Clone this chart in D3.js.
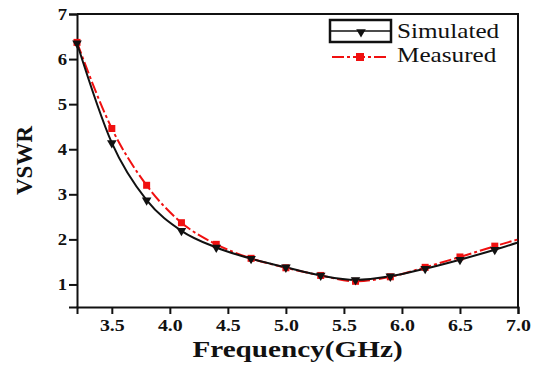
<!DOCTYPE html>
<html>
<head>
<script src="https://d3js.org/d3.v7.js"></script>
<style>
  body { margin: 0; background: #fff; }
  svg text { font-family: "Liberation Serif", "Times New Roman", serif; fill: #111; }
  .tick text { font-weight: bold; font-size: 17px; }
</style>
</head>
<body>
<svg id="chart"></svg>
<script>
// Data
var freq      = [3.2, 3.5, 3.8, 4.1, 4.4, 4.7, 5.0, 5.3, 5.6, 5.9, 6.2, 6.5, 6.8, 7.0];
var simulated = [6.35, 4.14, 2.87, 2.19, 1.82, 1.57, 1.38, 1.20, 1.10, 1.18, 1.35, 1.55, 1.77, 1.93];
var measured  = [6.37, 4.46, 3.20, 2.37, 1.89, 1.58, 1.37, 1.20, 1.07, 1.17, 1.38, 1.61, 1.85, 2.00];
var xTicks = [3.5, 4.0, 4.5, 5.0, 5.5, 6.0, 6.5, 7.0];
var yTicks = [1, 2, 3, 4, 5, 6, 7];
var seriesNames = ["Simulated", "Measured"];

var width = 544, height = 371;
var margin = { top: 14, right: 26, bottom: 64, left: 77 };

var svg = d3.select("#chart").attr("width", width).attr("height", height);

var x = d3.scaleLinear().domain([3.2, 7.0]).range([margin.left, width - margin.right]);
var y = d3.scaleLinear().domain([0.5, 7]).range([height - margin.bottom, margin.top]);

// frame: top and right lines
svg.append("path")
  .attr("d", "M" + x(3.2) + "," + y(7) + "H" + x(7.0) + "V" + y(0.5))
  .attr("fill", "none").attr("stroke", "#111").attr("stroke-width", 2);

// axes (the source picture is a bit stretched sideways, so text is too)
var xAxis = svg.append("g")
  .attr("transform", "translate(0," + y(0.5) + ")")
  .call(d3.axisBottom(x).tickValues(xTicks).tickFormat(d3.format(".1f")).tickSizeOuter(0).tickSize(7).tickPadding(5));
var yAxis = svg.append("g")
  .attr("transform", "translate(" + x(3.2) + ",0)")
  .call(d3.axisLeft(y).tickValues(yTicks).tickFormat(d3.format("d")).tickSizeOuter(0).tickSize(8).tickPadding(1));
[xAxis, yAxis].forEach(function (g) {
  g.select(".domain").attr("stroke", "#111").attr("stroke-width", 2);
  g.selectAll(".tick line").attr("stroke", "#111").attr("stroke-width", 2);
});
xAxis.selectAll(".tick text").attr("transform", "scale(1.17,1)");
yAxis.selectAll(".tick text").attr("transform", "scale(1.1,1)");

// axis titles
svg.append("text")
  .attr("transform", "translate(" + (x(3.2) + x(7.0)) / 2 + ",357) scale(1.27,1)")
  .attr("text-anchor", "middle")
  .style("font-weight", "bold").style("font-size", "23px")
  .text("Frequency(GHz)");
svg.append("text")
  .attr("transform", "translate(32," + (y(0.5) + y(7)) / 2 + ") rotate(-90)")
  .attr("text-anchor", "middle")
  .style("font-weight", "bold").style("font-size", "23px")
  .text("VSWR");

var line = d3.line().curve(d3.curveMonotoneX)
  .x(function (d) { return x(d[0]); })
  .y(function (d) { return y(d[1]); });

var simData = freq.map(function (f, i) { return [f, simulated[i]]; });
var meaData = freq.map(function (f, i) { return [f, measured[i]]; });

svg.append("path").datum(meaData)
  .attr("d", line).attr("fill", "none")
  .attr("stroke", "#f01010").attr("stroke-width", 2)
  .attr("stroke-dasharray", "12,3,3,3");
svg.append("path").datum(simData)
  .attr("d", line).attr("fill", "none")
  .attr("stroke", "#111").attr("stroke-width", 2);

var tri = d3.symbol().type(d3.symbolTriangle).size(40);

// markers (not on the last point)
svg.selectAll(".sq").data(meaData.slice(0, -1)).enter().append("rect")
  .attr("x", function (d) { return x(d[0]) - 3.5; })
  .attr("y", function (d) { return y(d[1]) - 3.5; })
  .attr("width", 7).attr("height", 7).attr("fill", "#f01010");
svg.selectAll(".tri").data(simData.slice(0, -1)).enter().append("path")
  .attr("d", tri)
  .attr("transform", function (d) { return "translate(" + x(d[0]) + "," + y(d[1]) + ") rotate(180)"; })
  .attr("fill", "#111");

// legend
var lg = svg.append("g");
lg.append("rect").attr("x", 330).attr("y", 20).attr("width", 61).attr("height", 22)
  .attr("fill", "none").attr("stroke", "#111").attr("stroke-width", 2.5);
lg.append("line").attr("x1", 331).attr("x2", 390).attr("y1", 31).attr("y2", 31)
  .attr("stroke", "#111").attr("stroke-width", 1.5);
lg.append("path").attr("d", tri)
  .attr("transform", "translate(361,32) rotate(180)").attr("fill", "#111");
lg.append("line").attr("x1", 332).attr("x2", 387).attr("y1", 57).attr("y2", 57)
  .attr("stroke", "#f01010").attr("stroke-width", 2).attr("stroke-dasharray", "12,3,3,3");
lg.append("rect").attr("x", 356).attr("y", 53).attr("width", 8).attr("height", 8).attr("fill", "#f01010");
lg.selectAll(".lt").data(seriesNames).enter().append("text")
  .attr("transform", function (d, i) { return "translate(397," + (38 + i * 24) + ") scale(1.2,1)"; })
  .style("font-size", "21px")
  .text(function (d) { return d; });
</script>
</body>
</html>
